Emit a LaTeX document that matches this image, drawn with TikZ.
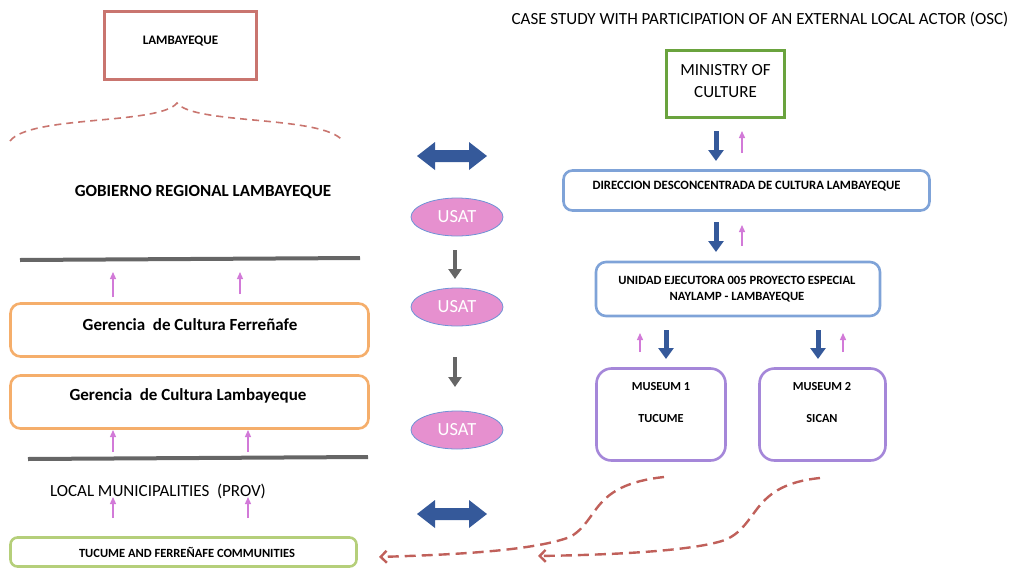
\documentclass[tikz,border=0pt]{standalone}
\usepackage{fontspec}
\setmainfont{Carlito}
\usetikzlibrary{arrows.meta,shapes.geometric}
\definecolor{redb}{HTML}{C9756F}
\definecolor{dashr}{HTML}{C0605A}
\definecolor{orangeb}{HTML}{F5AE6B}
\definecolor{greenb}{HTML}{6AA33E}
\definecolor{limeb}{HTML}{B5CF7A}
\definecolor{blueb}{HTML}{7FA3D8}
\definecolor{purpleb}{HTML}{A587D9}
\definecolor{darkblue}{HTML}{35599A}
\definecolor{pinkar}{HTML}{D27AD8}
\definecolor{usatfill}{HTML}{E690CF}
\definecolor{usatline}{HTML}{6E93D6}
\definecolor{grayl}{HTML}{666666}
\tikzset{
  fsz/.style={font=\fontsize{#1}{#1}\selectfont},
  bfz/.style={font=\bfseries\fontsize{#1}{#1}\selectfont},
  rbox/.style={draw, rounded corners=10pt, line width=2.6pt, inner sep=0pt},
  pinkarrow/.style={draw=pinkar, line width=1.3pt, -{Triangle[width=6pt,length=7pt]}},
  bluearrow/.style={draw=darkblue, line width=5pt, -{Triangle[width=15pt,length=11pt]}},
  grayarrow/.style={draw=grayl, line width=4.5pt, -{Triangle[width=13pt,length=10pt]}},
  usat/.style={ellipse, draw=usatline, line width=0.8pt, fill=usatfill, minimum width=92pt, minimum height=38pt, inner sep=0pt, text=white, fsz=18.5},
  grayline/.style={draw=grayl, line width=4pt},
  dasharrow/.style={draw=dashr, line width=2.4pt, dash pattern=on 11pt off 6pt, -{Straight Barb[length=6pt,width=12pt]}},
}
\newcommand{\dblarrow}[2]{%
  \fill[darkblue] (#1-35,#2) -- (#1-17,#2-14) -- (#1-17,#2-6) -- (#1+17,#2-6) -- (#1+17,#2-14) -- (#1+35,#2) -- (#1+17,#2+14) -- (#1+17,#2+6) -- (#1-17,#2+6) -- (#1-17,#2+14) -- cycle;}
\begin{document}
\begin{tikzpicture}[x=1pt,y=-1pt]
\useasboundingbox (0,0) rectangle (1021,576);
% left column
\node[draw=redb, line width=3pt, minimum width=152pt, minimum height=68pt, inner sep=0pt] (lamb) at (180.5,45.5) {};
\node[bfz=13] (lambt) at (180.5,41) {LAMBAYEQUE};
\draw[draw=redb, line width=1.6pt, dash pattern=on 7pt off 5pt] (10,141) .. controls (30,115) and (160,125) .. (177,103) .. controls (194,125) and (323,115) .. (343,141);
\node[bfz=17] (gob) at (203,192) {GOBIERNO REGIONAL LAMBAYEQUE};
\draw[grayline] (20,260) -- (360,258);
\draw[pinkarrow] (113,297) -- (113,272);
\draw[pinkarrow] (240,294) -- (240,272);
\node[rbox, draw=orangeb, minimum width=358pt, minimum height=53pt] (gf) at (189.5,330) {};
\node[bfz=17] (gft) at (190,325) {Gerencia\ \ de Cultura Ferreñafe};
\node[rbox, draw=orangeb, minimum width=358pt, minimum height=53pt] (gl) at (189.5,402) {};
\node[bfz=17] (glt) at (188,396) {Gerencia\ \ de Cultura Lambayeque};
\draw[pinkarrow] (113,452) -- (113,430);
\draw[pinkarrow] (248,452) -- (248,430);
\draw[grayline] (28,459) -- (368,457);
\node[fsz=17] (lm) at (158,491) {LOCAL MUNICIPALITIES\ \ (PROV)};
\draw[pinkarrow] (113,518) -- (113,497);
\draw[pinkarrow] (248,518) -- (248,497);
\node[rbox, draw=limeb, rounded corners=7pt, minimum width=346pt, minimum height=29pt] (tc) at (183.5,552) {};
\node[bfz=12.5] (tct) at (187,552) {TUCUME AND FERREÑAFE COMMUNITIES};
% middle
\dblarrow{452}{156}
\dblarrow{452}{514}
\node[usat] (u1) at (457,217) {USAT};
\node[usat] (u2) at (457,307) {USAT};
\node[usat] (u3) at (457,430) {USAT};
\draw[grayarrow] (455,250) -- (455,279);
\draw[grayarrow] (455,357) -- (455,387);
% right
\node[fsz=17] (title) at (760,19) {CASE STUDY WITH PARTICIPATION OF AN EXTERNAL LOCAL ACTOR (OSC)};
\node[draw=greenb, line width=3pt, minimum width=118pt, minimum height=67pt, inner sep=0pt] (min) at (725.5,84) {};
\node[fsz=17] (mina) at (725.5,70) {MINISTRY OF};
\node[fsz=17] (minb) at (725.5,92) {CULTURE};
\draw[bluearrow] (716,131) -- (716,161);
\draw[pinkarrow] (742,153) -- (742,131);
\node[rbox, draw=blueb, rounded corners=9pt, minimum width=366pt, minimum height=40pt] (dir) at (746.5,190.5) {};
\node[bfz=12.7] (dirt) at (746.5,186) {DIRECCION DESCONCENTRADA DE CULTURA LAMBAYEQUE};
\draw[bluearrow] (716,222) -- (716,252);
\draw[pinkarrow] (742,246) -- (742,225);
\node[rbox, draw=blueb, minimum width=284pt, minimum height=54pt] (ue) at (738,289) {};
\node[bfz=12.6] (ueta) at (737,280) {UNIDAD EJECUTORA 005 PROYECTO ESPECIAL};
\node[bfz=12.6] (uetb) at (737,297) {NAYLAMP - LAMBAYEQUE};
\draw[pinkarrow] (640,352) -- (640,333);
\draw[bluearrow] (666,330) -- (666,359);
\draw[bluearrow] (818,330) -- (818,359);
\draw[pinkarrow] (843,352) -- (843,333);
\node[rbox, draw=purpleb, rounded corners=15pt, minimum width=129pt, minimum height=92pt] (m1) at (661,414.5) {};
\node[bfz=12.3] (m1a) at (661,387) {MUSEUM 1};
\node[bfz=12.3] (m1b) at (661,419) {TUCUME};
\node[rbox, draw=purpleb, rounded corners=15pt, minimum width=126pt, minimum height=92pt] (m2) at (822.5,414.5) {};
\node[bfz=12.3] (m2a) at (822,387) {MUSEUM 2};
\node[bfz=12.3] (m2b) at (822,419) {SICAN};
\coordinate (c1) at (664,477);
\coordinate (c2) at (820,478);
\coordinate (e1) at (379,557);
\coordinate (e2) at (538,556);
\draw[dasharrow] (c1) .. controls (590,485) and (600,520) .. (570,537) .. controls (530,552) and (440,555) .. (e1);
\draw[dasharrow] (c2) .. controls (750,485) and (760,525) .. (725,540) .. controls (690,552) and (600,555) .. (e2);
\end{tikzpicture}
\end{document}
